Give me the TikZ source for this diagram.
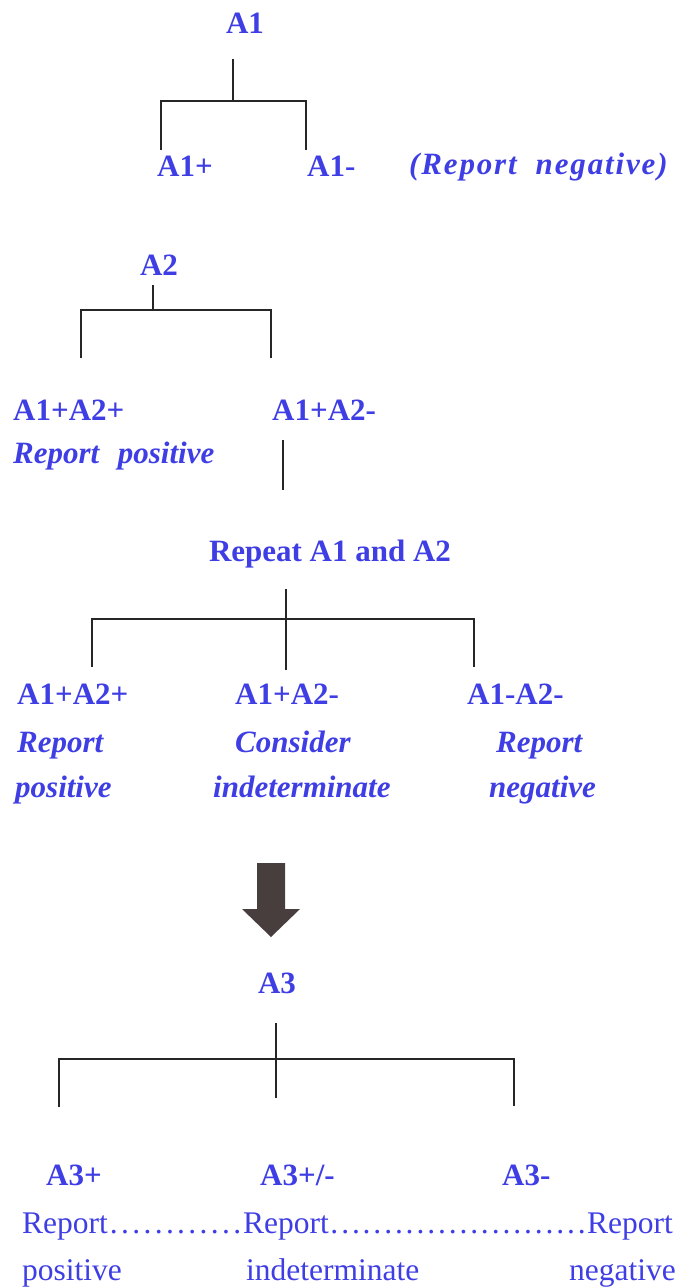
\documentclass[tikz,border=0pt]{standalone}
\usepackage{fontspec}
\setmainfont{Liberation Serif}
\definecolor{labelblue}{RGB}{62,62,228}
\definecolor{arrowgray}{RGB}{72,62,62}
\newcommand\dotrun{\xleaders\hbox to 10.5pt{\hss.\hss}\hfill}

\begin{document}
\begin{tikzpicture}[line cap=butt,line join=miter,x=1pt,y=-1pt,
	lbl/.style={inner sep=0pt,anchor=base west,text=labelblue,font=\fontsize{31}{36}\selectfont\bfseries},
	note/.style={lbl,font=\fontsize{31}{36}\selectfont\bfseries\itshape},
	plain/.style={lbl,font=\fontsize{31.5}{36}\selectfont},
	branch/.style={line width=2.6pt,color=black!85}]
		\useasboundingbox (0,0) rectangle (683,1287);
		\node[lbl,anchor=base] (a1) at (245,34) {A1};
		\node[lbl] (a1p) at (157,176) {A1+};
		\node[lbl] (a1m) at (307,176) {A1-};
		\node[note] (a1neg) at (409,174) {\addfontfeatures{LetterSpace=6}(Report\hspace{0.3em} negative)};
		\coordinate (b1top) at (233,59);
		\coordinate (b1mid) at (233,101);
		\coordinate (b1l) at (161,101);
		\coordinate (b1r) at (306,101);
		\coordinate (b1lend) at (161,150);
		\coordinate (b1rend) at (306,150);
		\draw [branch] (b1top) -- (b1mid);
		\draw [branch] (b1lend) -- (b1l) -- (b1r) -- (b1rend);
		\node[lbl,anchor=base] (a2) at (159,275) {A2};
		\coordinate (b2top) at (153,285);
		\coordinate (b2mid) at (153,310);
		\coordinate (b2l) at (81,310);
		\coordinate (b2r) at (271,310);
		\coordinate (b2lend) at (81,358);
		\coordinate (b2rend) at (271,358);
		\draw [branch] (b2top) -- (b2mid);
		\draw [branch] (b2lend) -- (b2l) -- (b2r) -- (b2rend);
		\node[lbl] (a2pp) at (13,420) {A1+A2+};
		\node[note] (a2pos) at (13,463) {Report\hspace{0.35em} positive};
		\node[lbl] (a2pm) at (272,420) {A1+A2-};
		\coordinate (b3top) at (283,440);
		\coordinate (b3end) at (283,490);
		\draw [branch] (b3top) -- (b3end);
		\node[lbl,anchor=base] (rep) at (330,561) {Repeat A1 and A2};
		\coordinate (b4top) at (286,589);
		\coordinate (b4end) at (286,670);
		\coordinate (b4l) at (92,619);
		\coordinate (b4r) at (474,619);
		\coordinate (b4lend) at (92,667);
		\coordinate (b4rend) at (474,667);
		\draw [branch] (b4top) -- (b4end);
		\draw [branch] (b4lend) -- (b4l) -- (b4r) -- (b4rend);
		\node[lbl] (r1) at (17,704) {A1+A2+};
		\node[note] (r1a) at (17,752) {Report};
		\node[note] (r1b) at (15,797) {positive};
		\node[lbl] (r2) at (235,704) {A1+A2-};
		\node[note] (r2a) at (235,752) {Consider};
		\node[note] (r2b) at (213,797) {indeterminate};
		\node[lbl] (r3) at (467,704) {A1-A2-};
		\node[note] (r3a) at (496,752) {Report};
		\node[note] (r3b) at (489,797) {negative};
		\fill [arrowgray] (257,863) -- (285,863) -- (285,909) -- (300,909) -- (271,937) -- (242,909) -- (257,909) -- cycle;
		\node[lbl,anchor=base] (a3) at (277,993) {A3};
		\coordinate (b5top) at (276,1023);
		\coordinate (b5end) at (276,1098);
		\coordinate (b5l) at (59,1059);
		\coordinate (b5r) at (514,1059);
		\coordinate (b5lend) at (59,1107);
		\coordinate (b5rend) at (514,1106);
		\draw [branch] (b5top) -- (b5end);
		\draw [branch] (b5lend) -- (b5l) -- (b5r) -- (b5rend);
		\node[lbl] (a3p) at (46,1185) {A3+};
		\node[lbl] (a3pm) at (260,1185) {A3+/-};
		\node[lbl] (a3m) at (502,1185) {A3-};
		\node[plain] (a3row) at (22,1233) {\makebox[221pt][l]{Report\dotrun}\makebox[344pt][l]{Report\dotrun}Report};
		\node[plain] (a3pos) at (22,1280) {positive};
		\node[plain] (a3ind) at (246,1280) {indeterminate};
		\node[plain,anchor=base east] (a3neg) at (676,1280) {negative};
\end{tikzpicture}
\end{document}
